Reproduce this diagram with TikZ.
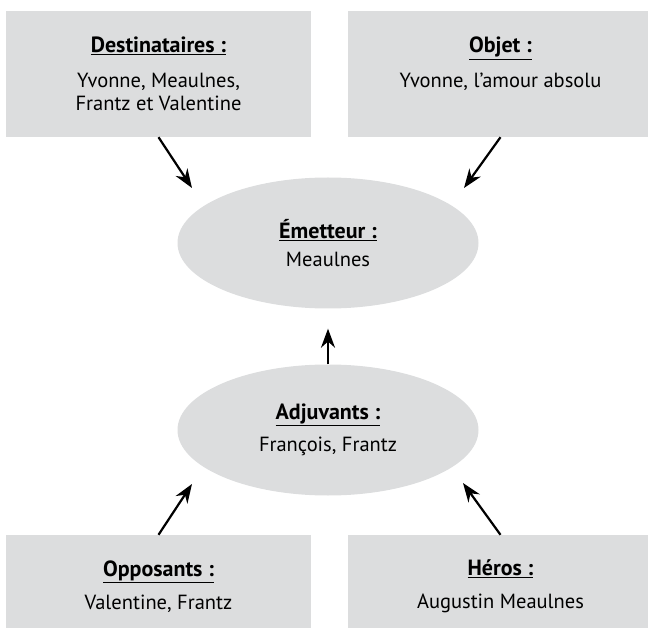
\documentclass[tikz,border=0pt]{standalone}
\usepackage{fontspec}
\setmainfont{PT Sans}
\usetikzlibrary{arrows.meta}
\usetikzlibrary{shapes}
\definecolor{fond}{HTML}{DCDDDE}
\newcommand{\titre}[1]{{\fontsize{22}{23}\selectfont\underline{\textbf{#1}}}}

\begin{document}
\begin{tikzpicture}[x=1pt, y=-1pt,
  every node/.style={font=\fontsize{20.5}{23}\selectfont, align=center, inner sep=0pt},
  boite/.style={fill=fond, minimum width=305pt, minimum height=126pt},
  bulle/.style={ellipse, fill=fond, minimum width=301pt, minimum height=131pt},
  fleche/.style={-{Stealth[length=19pt,width=14pt]}, line width=2.2pt}]
\useasboundingbox (0,0) rectangle (648,628);

\node[boite] (dest) at (158.5,74) {\titre{Destinataires :}\\[12pt]Yvonne, Meaulnes,\\Frantz et Valentine};
\node[boite] (objet) at (500.5,74) {\titre{Objet :}\\[12pt]Yvonne, l’amour absolu\\ \mbox{}};
\node[bulle] (emet) at (328,243) {\titre{Émetteur :}\\[5pt]Meaulnes};
\node[bulle] (adj) at (328,430) {\titre{Adjuvants :}\\[9pt]François, Frantz};
\node[boite, minimum height=103pt] (opp) at (158.5,586.5) {\titre{Opposants :}\\[10pt]Valentine, Frantz};
\node[boite, minimum height=103pt] (heros) at (500.5,586.5) {\titre{Héros :}\\[10pt]Augustin Meaulnes};

% pointes des fleches
\coordinate (p1) at (192,188);
\coordinate (p2) at (464,188);
\coordinate (p3) at (192,484);
\coordinate (p4) at (463,483);

\draw[fleche] (dest.south) -- (p1);
\draw[fleche] (objet.south) -- (p2);
\draw[fleche, shorten >=20pt] (adj.north) -- (emet.south);
\draw[fleche] (opp.north) -- (p3);
\draw[fleche] (heros.north) -- (p4);
\end{tikzpicture}
\end{document}
